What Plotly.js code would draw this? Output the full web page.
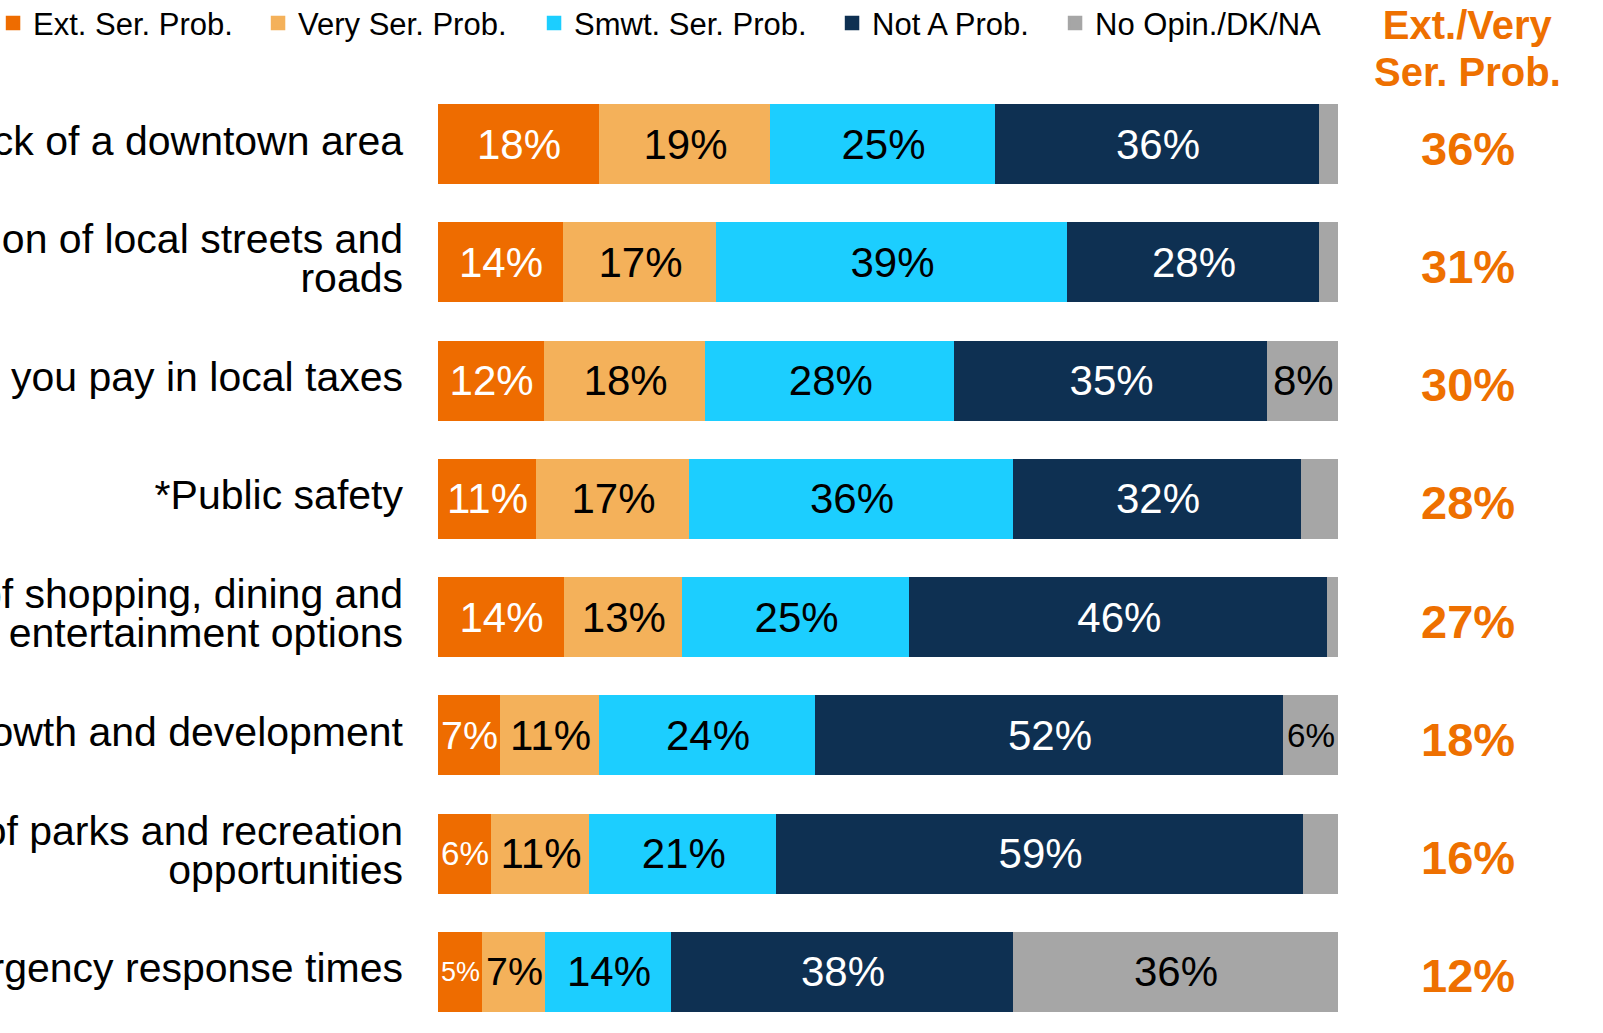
<!DOCTYPE html>
<html>
<head>
<meta charset="utf-8">
<script src="https://cdn.plot.ly/plotly-3.0.1.min.js"></script>
<style>
  html, body { margin: 0; padding: 0; background: #ffffff; }
  #chart { width: 1603px; height: 1033px; }
</style>
</head>
<body>
<div id="chart"></div>
<script>
// ---- Data ----
const categories = [
  "Lack of a downtown area",
  "Condition of local streets and<br>roads",
  "The amount you pay in local taxes",
  "*Public safety",
  "Lack of shopping, dining and<br>entertainment options",
  "Growth and development",
  "Lack of parks and recreation<br>opportunities",
  "Emergency response times"
];
const seriesNames = ["Ext. Ser. Prob.", "Very Ser. Prob.", "Smwt. Ser. Prob.", "Not A Prob.", "No Opin./DK/NA"];
const extSerious   = [18, 14, 11.9, 11, 14.1, 7, 6, 5];
const verySerious  = [19, 17, 17.9, 17, 13.1, 11, 10.9, 7];
const smwtSerious  = [25, 39, 27.7, 36, 25.3, 24, 20.8, 14];
const notAProblem  = [36, 28, 34.7, 32, 46.4, 52, 58.5, 38];
const noOpinion    = [2, 2, 7.9, 4, 1.1, 6, 3.8, 36];
const extVeryTotal = [36, 31, 30, 28, 27, 18, 16, 12];
const sideHeader = ["Ext./Very", "Ser. Prob."];

// ---- Styling ----
const colors = ["#EE6C00", "#F4B15A", "#1CCEFF", "#0E3052", "#A6A6A6"];
const textColors = ["#FFFFFF", "#000000", "#000000", "#FFFFFF", "#000000"];
const legendWidths = [220, 231, 253, 178, 232];
const FONT = "Liberation Sans, Arial, sans-serif";
const ORANGE = "#EE7000";

const seriesValues = [extSerious, verySerious, smwtSerious, notAProblem, noOpinion];

const big = s => '<span style="font-size:41px">' + s + '</span>';
const bigHead = s => '<span style="font-size:40px">' + s + '</span>';
const tickText = categories.map(c => c.split('<br>').map(big).join('<br>'));

const traces = seriesValues.map((vals, i) => ({
  type: 'bar',
  orientation: 'h',
  name: seriesNames[i],
  y: categories,
  x: vals,
  text: vals.map(v => v >= 5 ? Math.round(v) + '%' : ''),
  textposition: 'inside',
  insidetextanchor: 'middle',
  textangle: 0,
  insidetextfont: { family: FONT, size: 42, color: textColors[i] },
  marker: { color: colors[i], line: { color: colors[i], width: 2.5 } },
  legendwidth: legendWidths[i],
  hoverinfo: 'name+x'
}));

const annotations = extVeryTotal.map((v, i) => ({
  xref: 'paper', yref: 'y',
  x: 1.1444, y: categories[i],
  text: v + '%',
  showarrow: false,
  xanchor: 'center', yanchor: 'middle',
  yshift: -4,
  font: { family: FONT, size: 47, color: ORANGE, weight: 'bold' }
}));
annotations.push({
  xref: 'paper', yref: 'paper',
  x: 1.1444, y: 1.0386,
  text: sideHeader.map(bigHead).join('<br>'),
  showarrow: false,
  xanchor: 'center', yanchor: 'middle',
  align: 'center',
  font: { family: FONT, size: 36, color: ORANGE, weight: 'bold' }
});

const layout = {
  width: 1603,
  height: 1033,
  barmode: 'stack',
  bargap: 0.345,
  paper_bgcolor: '#FFFFFF',
  plot_bgcolor: '#FFFFFF',
  font: { family: FONT, color: '#000000' },
  margin: { l: 438, r: 265, t: 85, b: 2, autoexpand: false },
  showlegend: true,
  legend: {
    orientation: 'h',
    x: -0.4944, xanchor: 'left',
    y: 1.0936, yanchor: 'top',
    traceorder: 'normal',
    font: { family: FONT, size: 31, color: '#000000' },
    bgcolor: 'rgba(0,0,0,0)',
    borderwidth: 0
  },
  xaxis: {
    range: [0, 100],
    showgrid: false, zeroline: false, showline: false,
    showticklabels: false, ticks: '', fixedrange: true
  },
  yaxis: {
    type: 'category',
    autorange: 'reversed',
    tickmode: 'array',
    tickvals: categories,
    ticktext: tickText,
    ticks: '',
    ticklabelstandoff: 34,
    tickfont: { family: FONT, size: 30, color: '#000000' },
    showgrid: false, zeroline: false, showline: false,
    automargin: false, fixedrange: true
  },
  annotations: annotations
};

Plotly.newPlot('chart', traces, layout, { displayModeBar: false, staticPlot: true });
</script>
</body>
</html>
